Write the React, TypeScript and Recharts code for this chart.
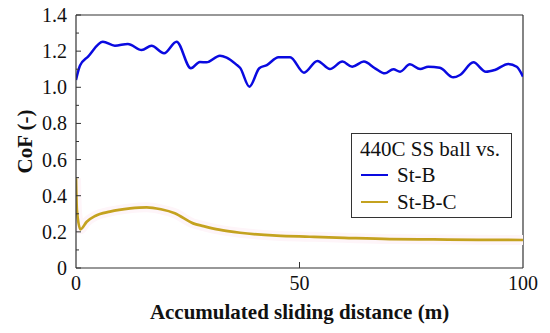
import React from "react";
import { LineChart, Line, XAxis, YAxis, ReferenceLine, Label } from "recharts";

// St-B (blue) CoF vs distance
const stBDistance = [0, 0.9, 2.7, 6.0, 8.7, 11.6, 14.7, 16.9, 19.7, 22.5, 25.7, 27.7, 29.2, 32.2, 33.7, 36.0, 36.7, 38.8, 41.0, 42.7, 45.3, 47.9, 51.0, 54.0, 56.8, 59.6, 61.8, 64.4, 66.9, 69.1, 71.0, 72.5, 74.7, 77.0, 78.8, 81.4, 84.4, 85.9, 88.9, 91.7, 93.7, 96.7, 98.6, 100];
const stBCoF = [1.04, 1.12, 1.17, 1.252, 1.23, 1.24, 1.206, 1.23, 1.188, 1.252, 1.105, 1.14, 1.138, 1.175, 1.164, 1.123, 1.108, 1.003, 1.105, 1.123, 1.166, 1.166, 1.081, 1.146, 1.101, 1.142, 1.114, 1.142, 1.105, 1.077, 1.1, 1.086, 1.127, 1.101, 1.114, 1.108, 1.055, 1.068, 1.138, 1.086, 1.096, 1.129, 1.114, 1.059];

// St-B-C (gold) CoF vs distance
const stBCDistance = [0, 0.2, 1.0, 2.4, 4.3, 7.6, 12.1, 15.8, 19.0, 22.1, 26.2, 28.5, 32.0, 36.7, 44.9, 52.3, 60.0, 70.2, 80.0, 90.0, 100];
const stBCCoF = [0.496, 0.32, 0.214, 0.256, 0.288, 0.312, 0.33, 0.336, 0.325, 0.303, 0.247, 0.232, 0.212, 0.195, 0.179, 0.173, 0.167, 0.16, 0.158, 0.156, 0.155];

const yTicks = [0, 0.1, 0.2, 0.3, 0.4, 0.5, 0.6, 0.7, 0.8, 0.9, 1.0, 1.1, 1.2, 1.3, 1.4];
const xTicks = [0, 50, 100];

const seriesNames = ["St-B", "St-B-C"];
const seriesColors = ["#0a0ae0", "#c4a21f"];
const legendTitle = "440C SS ball vs.";

const stB = stBDistance.map((x, i) => ({ x, y: stBCoF[i] }));
const stBC = stBCDistance.map((x, i) => ({ x, y: stBCCoF[i] }));

const font = "Liberation Serif";
const axisColor = "#333";

const YTick = (props: any) => {
  const { x, y, payload } = props;
  const v = payload.value as number;
  const major = Math.round(v * 10) % 2 === 0;
  const axisX = x + 9;
  return (
    <g>
      <line x1={axisX} x2={axisX + (major ? 5 : 3)} y1={y} y2={y} stroke={axisColor} strokeWidth={1} />
      {major && (
        <text x={x} y={y} textAnchor="end" dominantBaseline="central" fontSize={20} fontFamily={font} fill="#111">
          {v === 0 ? "0" : v.toFixed(1)}
        </text>
      )}
    </g>
  );
};

const XTick = (props: any) => {
  const { x, y, payload } = props;
  const v = payload.value as number;
  const axisY = y - 15;
  return (
    <g>
      {v > 0 && v < 100 && (
        <line x1={x} x2={x} y1={axisY} y2={axisY - 6} stroke={axisColor} strokeWidth={1} />
      )}
      <text x={x} y={y} textAnchor="middle" dominantBaseline="central" fontSize={20} fontFamily={font} fill="#111">
        {v}
      </text>
    </g>
  );
};

function ChartLegend() {
  return (
    <div
      style={{
        position: "absolute",
        left: 351,
        top: 133,
        width: 159,
        height: 83,
        border: `1px solid ${axisColor}`,
        background: "#fff",
        fontFamily: font,
        fontSize: 21,
        color: "#111",
        boxSizing: "content-box",
      }}
    >
      <div style={{ position: "absolute", left: 8, top: 2, lineHeight: "26px", whiteSpace: "nowrap" }}>{legendTitle}</div>
      {seriesNames.map((name, i) => (
        <div key={name} style={{ position: "absolute", left: 9, top: 28 + i * 27, height: 26, display: "flex", alignItems: "center" }}>
          <span style={{ display: "inline-block", width: 27, height: 2.5, background: seriesColors[i] }} />
          <span style={{ marginLeft: 9, lineHeight: "26px" }}>{name}</span>
        </div>
      ))}
    </div>
  );
}

export default function App() {
  return (
    <div style={{ position: "absolute", left: 0, top: 0, width: 550, height: 333, background: "#fff" }}>
      <LineChart width={550} height={333} margin={{ top: 15, right: 27, left: 0, bottom: 0 }}>
        <XAxis
          dataKey="x"
          type="number"
          domain={[0, 100]}
          ticks={xTicks}
          tick={<XTick />}
          tickLine={false}
          tickSize={0}
          tickMargin={15}
          height={65}
          axisLine={{ stroke: axisColor, strokeWidth: 1.2 }}
          allowDataOverflow
        >
          <Label
            content={({ viewBox }: any) => (
              <text
                x={viewBox.x + viewBox.width / 2}
                y={312}
                textAnchor="middle"
                dominantBaseline="central"
                fontSize={21}
                fontWeight="bold"
                fontFamily={font}
                fill="#111"
              >
                Accumulated sliding distance (m)
              </text>
            )}
          />
        </XAxis>
        <YAxis
          type="number"
          domain={[0, 1.4]}
          ticks={yTicks}
          tick={<YTick />}
          tickLine={false}
          tickSize={0}
          tickMargin={9}
          width={76}
          axisLine={{ stroke: axisColor, strokeWidth: 1.2 }}
          interval={0}
          allowDataOverflow
        >
          <Label
            content={({ viewBox }: any) => {
              const cx = 25;
              const cy = viewBox.y + viewBox.height / 2;
              return (
                <text
                  x={cx}
                  y={cy}
                  transform={`rotate(-90 ${cx} ${cy})`}
                  textAnchor="middle"
                  dominantBaseline="central"
                  fontSize={21}
                  fontWeight="bold"
                  fontFamily={font}
                  fill="#111"
                >
                  CoF (-)
                </text>
              );
            }}
          />
        </YAxis>
        <ReferenceLine x={100} stroke={axisColor} strokeWidth={1.2} />
        <ReferenceLine y={1.4} stroke={axisColor} strokeWidth={1.2} />
        {/* faint pink halo seen around the gold trace */}
        <Line
          data={stBC}
          dataKey="y"
          legendType="none"
          type="monotone"
          stroke="#fef5f9"
          strokeWidth={10}
          dot={false}
          activeDot={false}
          isAnimationActive={false}
        />
        <Line
          data={stBC}
          dataKey="y"
          name={seriesNames[1]}
          type="monotone"
          stroke={seriesColors[1]}
          strokeWidth={2.7}
          dot={false}
          isAnimationActive={false}
        />
        <Line
          data={stB}
          dataKey="y"
          name={seriesNames[0]}
          type="monotone"
          stroke={seriesColors[0]}
          strokeWidth={2.5}
          dot={false}
          isAnimationActive={false}
        />
      </LineChart>
      <ChartLegend />
    </div>
  );
}
